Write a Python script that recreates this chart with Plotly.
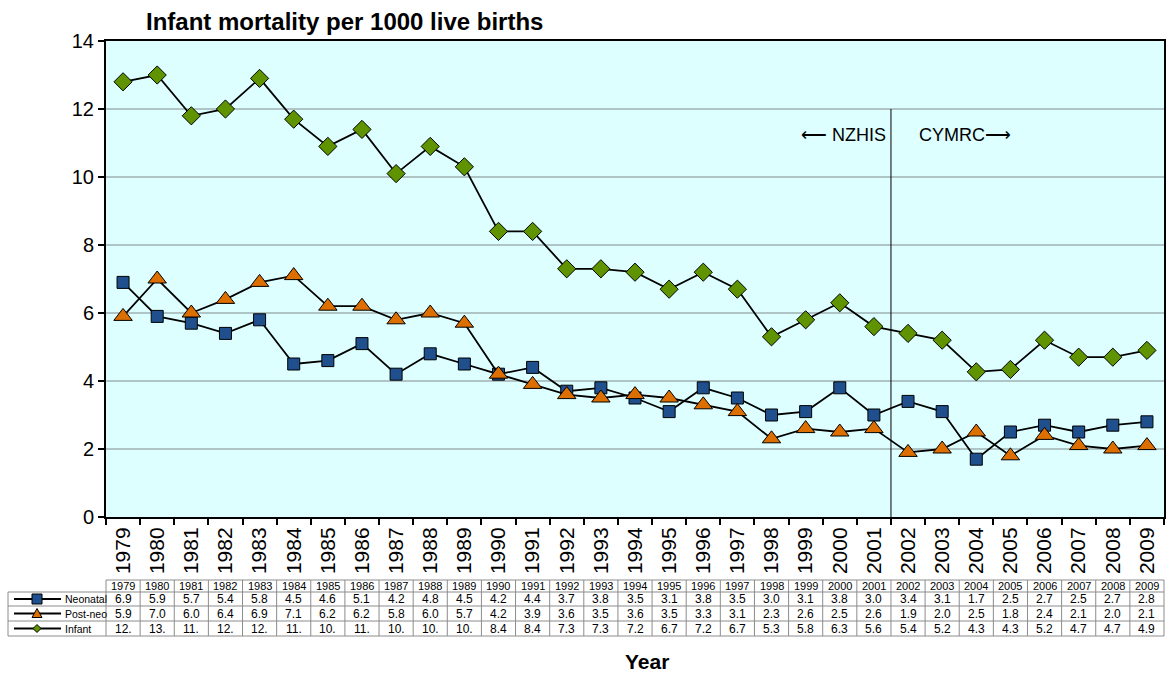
import plotly.graph_objects as go

years = list(range(1979, 2010))
neonatal = [6.9, 5.9, 5.7, 5.4, 5.8, 4.5, 4.6, 5.1, 4.2, 4.8, 4.5, 4.2, 4.4, 3.7, 3.8, 3.5,
            3.1, 3.8, 3.5, 3.0, 3.1, 3.8, 3.0, 3.4, 3.1, 1.7, 2.5, 2.7, 2.5, 2.7, 2.8]
post_neo = [5.9, 7.0, 6.0, 6.4, 6.9, 7.1, 6.2, 6.2, 5.8, 6.0, 5.7, 4.2, 3.9, 3.6, 3.5, 3.6,
            3.5, 3.3, 3.1, 2.3, 2.6, 2.5, 2.6, 1.9, 2.0, 2.5, 1.8, 2.4, 2.1, 2.0, 2.1]
infant = [12.8, 13.0, 11.8, 12.0, 12.9, 11.7, 10.9, 11.4, 10.1, 10.9, 10.3, 8.4, 8.4, 7.3, 7.3, 7.2,
          6.7, 7.2, 6.7, 5.3, 5.8, 6.3, 5.6, 5.4, 5.2, 4.27, 4.34, 5.2, 4.7, 4.7, 4.9]

series_names = ["Neonatal", "Post-neo", "Infant"]
series_values = [neonatal, post_neo, infant]
series_colors = ["#1F4F8C", "#DD6E00", "#5F9400"]
series_symbols = ["square", "triangle-up", "diamond"]
series_sizes = [12, 16, 14]

W, H = 1169, 692
PL, PR, PT, PB = 106, 1164, 41, 517  # plot area in pixels

def fx(x):
    return x / W

def fy(y):
    return 1 - y / H

ncat = len(years)
cat_w = (PR - PL) / ncat
cats = [str(y) for y in years]

fig = go.Figure()
for name, vals, col, sym, sz in zip(series_names, series_values, series_colors, series_symbols, series_sizes):
    fig.add_trace(go.Scatter(
        x=cats, y=vals, mode="lines+markers", name=name,
        line=dict(color="black", width=1.8),
        marker=dict(symbol=sym, size=sz, color=col, line=dict(color="black", width=1)),
        showlegend=False, cliponaxis=False,
    ))

shapes = []
annotations = []

# divider line between 2001 and 2002
shapes.append(dict(type="line", xref="x", yref="y", x0=22.5, x1=22.5, y0=0, y1=12,
                   line=dict(color="black", width=1)))

annotations.append(dict(xref="paper", yref="paper", x=fx(888), y=fy(135), xanchor="right", yanchor="middle",
                        text="\u27f5 NZHIS", showarrow=False,
                        font=dict(family="Liberation Sans, Arial", size=18, color="black")))
annotations.append(dict(xref="paper", yref="paper", x=fx(917), y=fy(135), xanchor="left", yanchor="middle",
                        text="CYMRC\u27f6", showarrow=False,
                        font=dict(family="Liberation Sans, Arial", size=18, color="black")))

# data table
row_y = [580, 592, 606, 621, 636]
grid_col = "#8C8C8C"
LEG_L = 8
shapes.append(dict(type="line", xref="paper", yref="paper", x0=fx(PL), x1=fx(PR), y0=fy(row_y[0]), y1=fy(row_y[0]),
                   line=dict(color=grid_col, width=1)))
for ry in row_y[1:]:
    shapes.append(dict(type="line", xref="paper", yref="paper", x0=fx(LEG_L), x1=fx(PR), y0=fy(ry), y1=fy(ry),
                       line=dict(color=grid_col, width=1)))
for k in range(ncat + 1):
    bx = PL + k * cat_w
    shapes.append(dict(type="line", xref="paper", yref="paper", x0=fx(bx), x1=fx(bx), y0=fy(row_y[0]), y1=fy(row_y[-1]),
                       line=dict(color=grid_col, width=1)))
shapes.append(dict(type="line", xref="paper", yref="paper", x0=fx(LEG_L), x1=fx(LEG_L), y0=fy(row_y[1]), y1=fy(row_y[-1]),
                   line=dict(color=grid_col, width=1)))

tfont = dict(family="Liberation Sans, Arial", size=12, color="black")
for i, yr in enumerate(years):
    cx = PL + (i + 0.5) * cat_w
    annotations.append(dict(xref="paper", yref="paper", x=fx(cx), y=fy((row_y[0] + row_y[1]) / 2),
                            text=str(yr), showarrow=False, xanchor="center", yanchor="middle",
                            font=dict(family="Liberation Sans, Arial", size=11, color="black")))
    for r, vals in enumerate(series_values):
        label = f"{vals[i]:.1f}"[:3]
        annotations.append(dict(xref="paper", yref="paper", x=fx(cx), y=fy((row_y[r + 1] + row_y[r + 2]) / 2),
                                text=label, showarrow=False, xanchor="center", yanchor="middle", font=tfont))

# legend keys in the table
for r, (name, col, sym) in enumerate(zip(series_names, series_colors, series_symbols)):
    cy = (row_y[r + 1] + row_y[r + 2]) / 2
    shapes.append(dict(type="line", xref="paper", yref="paper", x0=fx(14), x1=fx(61), y0=fy(cy), y1=fy(cy),
                       line=dict(color="black", width=2)))
    mx = 37
    if sym == "square":
        path = f"M {fx(mx-5)} {fy(cy-5)} L {fx(mx+5)} {fy(cy-5)} L {fx(mx+5)} {fy(cy+5)} L {fx(mx-5)} {fy(cy+5)} Z"
    elif sym == "triangle-up":
        path = f"M {fx(mx-5)} {fy(cy+4)} L {fx(mx+5)} {fy(cy+4)} L {fx(mx)} {fy(cy-5)} Z"
    else:
        path = f"M {fx(mx-4)} {fy(cy)} L {fx(mx)} {fy(cy-4)} L {fx(mx+4)} {fy(cy)} L {fx(mx)} {fy(cy+4)} Z"
    shapes.append(dict(type="path", xref="paper", yref="paper", path=path, fillcolor=col,
                       line=dict(color="black", width=1)))
    annotations.append(dict(xref="paper", yref="paper", x=fx(63), y=fy(cy), xanchor="left", yanchor="middle",
                            text=name, showarrow=False,
                            font=dict(family="Liberation Sans, Arial", size=10.5, color="black")))

annotations.append(dict(xref="paper", yref="paper", x=fx(647), y=fy(661), xanchor="center", yanchor="middle",
                        text="<b>Year</b>", showarrow=False,
                        font=dict(family="Liberation Sans, Arial", size=21, color="black")))

fig.update_layout(
    width=W, height=H,
    margin=dict(l=0, r=0, t=0, b=0, autoexpand=False),
    paper_bgcolor="white",
    plot_bgcolor="#DDFFFF",
    title=dict(text="<b>Infant mortality per 1000 live births</b>", x=fx(146), xanchor="left",
               y=fy(22), yanchor="middle", xref="paper",
               font=dict(family="Liberation Sans, Arial", size=24, color="black")),
    font=dict(family="Liberation Sans, Arial", color="black"),
    xaxis=dict(domain=[fx(PL), fx(PR)], type="category", range=[-0.5, ncat - 0.5], autorange=False,
               tickson="boundaries", ticks="outside",
               ticklen=6, tickwidth=1.5, tickcolor="black", showline=True, linecolor="black", linewidth=2,
               mirror=True, showgrid=False, tickangle=-90, tickfont=dict(size=21, color="black"),
               automargin=False, fixedrange=True),
    yaxis=dict(domain=[fy(PB), fy(PT)], range=[0, 14], dtick=2, ticks="outside", ticklen=6, tickwidth=1.5,
               tickcolor="black", showline=True, linecolor="black", linewidth=2, mirror=True,
               showgrid=True, gridcolor="#AFC4C4", gridwidth=1.5, zeroline=False,
               tickfont=dict(size=20, color="black"), automargin=False, fixedrange=True),
    shapes=shapes,
    annotations=annotations,
)

fig.write_html("out.html", config={"displayModeBar": False},
               post_script="document.body.style.margin='0';document.body.style.padding='0';")
